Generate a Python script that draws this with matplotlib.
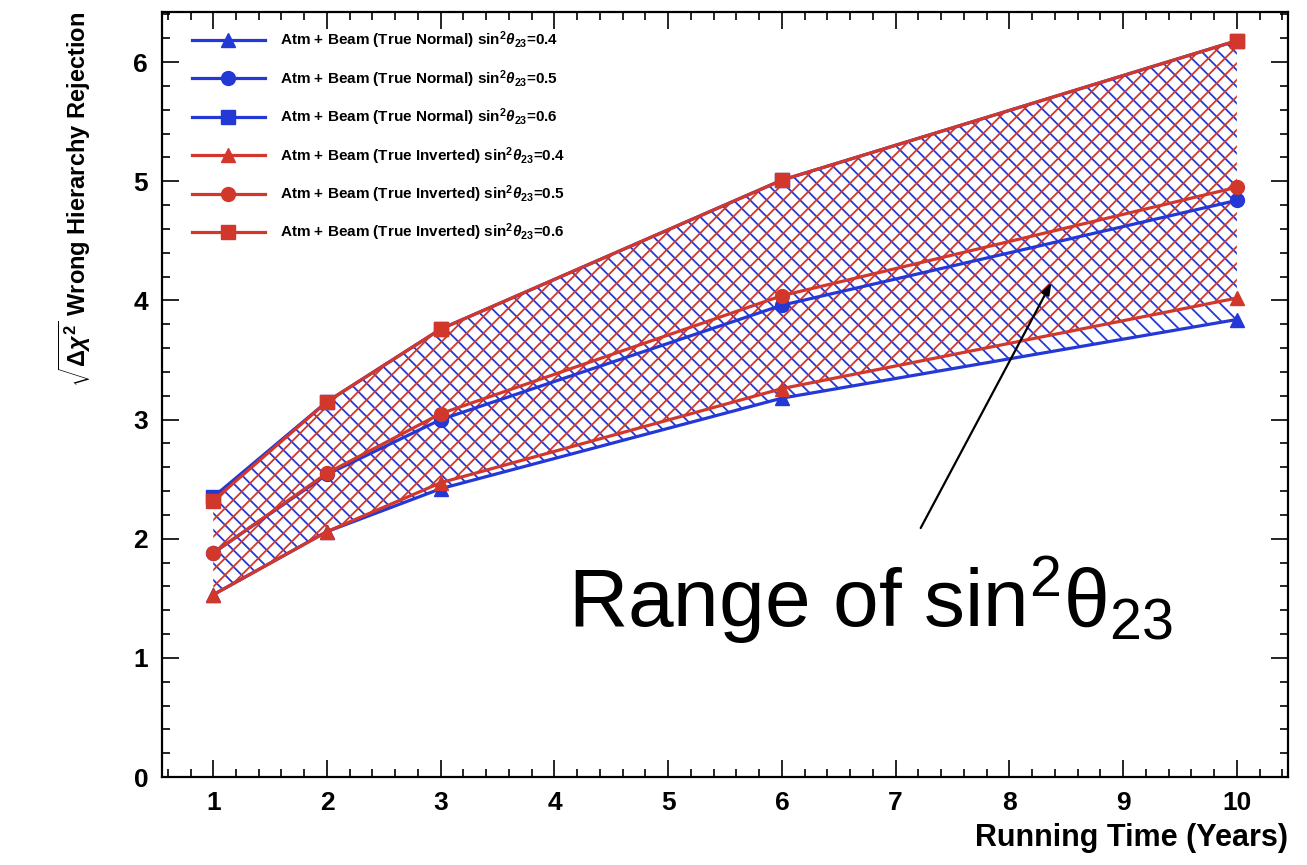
#!/usr/bin/env python3
"""Wrong-hierarchy rejection vs running time, ROOT-style plot."""

import matplotlib

matplotlib.use("Agg")
import matplotlib.pyplot as plt  # noqa: E402
from matplotlib.ticker import MultipleLocator  # noqa: E402

plt.rcParams["font.family"] = ["Liberation Sans", "DejaVu Sans"]
plt.rcParams["mathtext.fontset"] = "custom"
plt.rcParams["mathtext.rm"] = "Liberation Sans:bold"
plt.rcParams["mathtext.it"] = "Liberation Sans:bold:italic"
plt.rcParams["mathtext.bf"] = "Liberation Sans:bold"
plt.rcParams["hatch.linewidth"] = 1.3

BLUE = "#2438d6"
RED = "#d2372c"

years = [1, 2, 3, 6, 10]
normal_04 = [1.53, 2.06, 2.42, 3.18, 3.84]
normal_05 = [1.88, 2.54, 3.00, 3.96, 4.84]
normal_06 = [2.35, 3.15, 3.76, 5.01, 6.18]
inverted_04 = [1.53, 2.06, 2.47, 3.26, 4.02]
inverted_05 = [1.88, 2.55, 3.05, 4.04, 4.95]
inverted_06 = [2.32, 3.15, 3.76, 5.01, 6.18]

series = [
    ("Normal", "0.4", normal_04, BLUE, "^"),
    ("Normal", "0.5", normal_05, BLUE, "o"),
    ("Normal", "0.6", normal_06, BLUE, "s"),
    ("Inverted", "0.4", inverted_04, RED, "^"),
    ("Inverted", "0.5", inverted_05, RED, "o"),
    ("Inverted", "0.6", inverted_06, RED, "s"),
]

fig = plt.figure(figsize=(13.07, 8.65), dpi=100)
ax = fig.add_axes([0.124, 0.1017, 0.8615, 0.8843])

# hatched bands spanning sin^2 theta23 = 0.4 .. 0.6
ax.fill_between(years, normal_04, normal_06, facecolor="none",
                edgecolor=BLUE, hatch="\\\\", linewidth=0, zorder=1)
ax.fill_between(years, inverted_04, inverted_06, facecolor="none",
                edgecolor=RED, hatch="//", linewidth=0, zorder=1.5)

for hier, s2, vals, color, marker in series:
    label = rf"Atm + Beam (True {hier}) sin$^2\theta_{{23}}$={s2}"
    ax.plot(years, vals, color=color, marker=marker, markersize=10,
            linewidth=2.3, label=label, zorder=3 if color == RED else 2)

ax.set_xlim(0.55, 10.45)
ax.set_ylim(0, 6.42)
ax.xaxis.set_major_locator(MultipleLocator(1))
ax.xaxis.set_minor_locator(MultipleLocator(0.2))
ax.yaxis.set_major_locator(MultipleLocator(1))
ax.yaxis.set_minor_locator(MultipleLocator(0.2))
ax.tick_params(which="both", direction="in", top=True, right=True,
               width=1.2, labelsize=19, pad=10)
ax.tick_params(which="major", length=12)
ax.tick_params(which="minor", length=6)
for lab in ax.get_xticklabels() + ax.get_yticklabels():
    lab.set_fontweight("bold")
for sp in ax.spines.values():
    sp.set_linewidth(1.6)

ax.set_xlabel("Running Time (Years)", fontsize=22, fontweight="bold", loc="right")
ax.xaxis.set_label_coords(1.0, -0.06)
ax.set_ylabel(r"$\sqrt{\Delta\chi^2}$ Wrong Hierarchy Rejection",
              fontsize=17, fontweight="bold", loc="top")
ax.yaxis.set_label_coords(-0.061, 1.0)

leg = ax.legend(loc="upper left", bbox_to_anchor=(0.014, 0.995), frameon=False,
                prop={"weight": "bold", "size": 11}, handlelength=4.8,
                labelspacing=1.1, handletextpad=1.0)

ax.annotate("", xy=(8.37, 4.15), xytext=(7.22, 2.09),
            arrowprops=dict(arrowstyle="-|>,head_length=0.7,head_width=0.25",
                            color="black", linewidth=1.6, shrinkA=0, shrinkB=0))
fig.text(0.4345, 0.305, r"Range of sin$^{\mathregular{2}}$θ$_{\mathregular{23}}$",
         fontsize=59, family=["Liberation Sans", "DejaVu Sans"],
         fontweight="normal", ha="left", va="center")

fig.savefig("out.png", dpi=100)
